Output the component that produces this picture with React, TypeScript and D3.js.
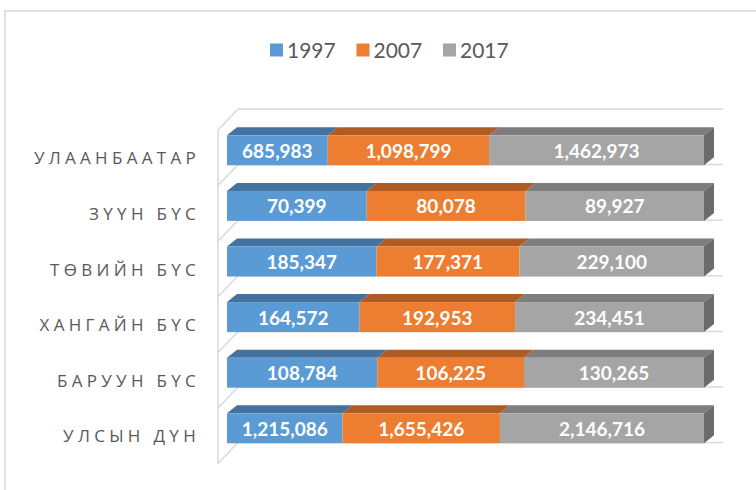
import React from 'react';
import * as d3 from 'd3';

const categories = ['УЛААНБААТАР', 'ЗҮҮН БҮС', 'ТӨВИЙН БҮС', 'ХАНГАЙН БҮС', 'БАРУУН БҮС', 'УЛСЫН ДҮН'];
const years = ['1997', '2007', '2017'];
const values1997 = [685983, 70399, 185347, 164572, 108784, 1215086];
const values2007 = [1098799, 80078, 177371, 192953, 106225, 1655426];
const values2017 = [1462973, 89927, 229100, 234451, 130265, 2146716];

const frontColors = ['#5B9BD5', '#ED7D31', '#A5A5A5'];
const topColors = ['#44729E', '#B05B22', '#7D7D7D'];
const sideColors = ['#3B6690', '#9E521E', '#6B6B6B'];

const W = 756;
const H = 490;

export default function App() {
  const rows = categories.map((c, i) => ({
    cat: c,
    '1997': values1997[i],
    '2007': values2007[i],
    '2017': values2017[i],
  }));
  const series = d3.stack<any>().keys(years).offset(d3.stackOffsetExpand)(rows);

  const x = d3.scaleLinear().domain([0, 1]).range([218, 695]);
  const y = d3.scaleBand<string>().domain(categories).range([130, 463.6]).paddingInner(0.46).paddingOuter(0.23);
  const fmt = d3.format(',');

  const wallDx = 20, wallDy = -21;
  const barFx = 9, barFy = -7.5;
  const barDx = 10, barDy = -8;
  const [r0, r1] = y.range();
  const step = y.step();
  const seps = d3.range(categories.length + 1).map(i => r0 + i * step);
  const xEnd = x(1) + wallDx + 8;
  const grid = '#D9D9D9';

  return (
    <svg width={W} height={H} style={{ position: 'absolute', left: 0, top: 0, background: '#fff' }}>
      <rect x={5} y={11} width={900} height={700} fill="#fff" stroke={grid} strokeWidth={1.5} />
      <g fontFamily="Lato, 'Open Sans', sans-serif" fontSize={21} fill="#595959">
        {years.map((yr, i) => {
          const lx = 270 + i * 86.5;
          return (
            <g key={yr}>
              <rect x={lx} y={43.5} width={13} height={13} fill={frontColors[i]} />
              <text x={lx + 17} y={57.5}>{yr}</text>
            </g>
          );
        })}
      </g>
      <g stroke={grid} strokeWidth={1.5} fill="none">
        <line x1={x(0)} y1={r0} x2={x(0)} y2={r1} />
        {seps.map((s, i) => (
          <g key={i}>
            <line x1={x(0)} y1={s} x2={x(0) + wallDx} y2={s + wallDy} />
            <line x1={x(0) + wallDx} y1={s + wallDy} x2={xEnd} y2={s + wallDy} />
          </g>
        ))}
      </g>
      <g fontFamily="'Open Sans', 'Noto Sans', sans-serif" fontSize={17} fill="#595959" letterSpacing={4.3}>
        {categories.map(c => (
          <text key={c} x={200} y={(y(c) as number) + y.bandwidth() / 2} textAnchor="end" dominantBaseline="central">{c}</text>
        ))}
      </g>
      {categories.map((c, ci) => {
        const yt = (y(c) as number) + barFy;
        const h = y.bandwidth();
        const yb = yt + h;
        return (
          <g key={c}>
            {series.map((s, si) => {
              const d = s[ci];
              const xl = x(d[0]) + barFx;
              const xr = x(d[1]) + barFx;
              const top = `M${xl},${yt} L${xl + barDx},${yt + barDy} L${xr + barDx},${yt + barDy} L${xr},${yt} Z`;
              const side = `M${xr},${yt} L${xr + barDx},${yt + barDy} L${xr + barDx},${yb + barDy} L${xr},${yb} Z`;
              return (
                <g key={si}>
                  <path d={top} fill={topColors[si]} />
                  {si === series.length - 1 && <path d={side} fill={sideColors[si]} />}
                  <rect x={xl} y={yt} width={xr - xl} height={h} fill={frontColors[si]} />
                </g>
              );
            })}
            {series.map((s, si) => {
              const d = s[ci];
              const xl = x(d[0]) + barFx;
              const xr = x(d[1]) + barFx;
              const val = [values1997, values2007, values2017][si][ci];
              return (
                <text key={'t' + si} x={(xl + xr) / 2} y={yt + h / 2} textAnchor="middle" dominantBaseline="central"
                  fontFamily="Lato, 'Open Sans', sans-serif" fontWeight="bold" fontSize={19} fill="#fff">
                  {fmt(val)}
                </text>
              );
            })}
          </g>
        );
      })}
    </svg>
  );
}
